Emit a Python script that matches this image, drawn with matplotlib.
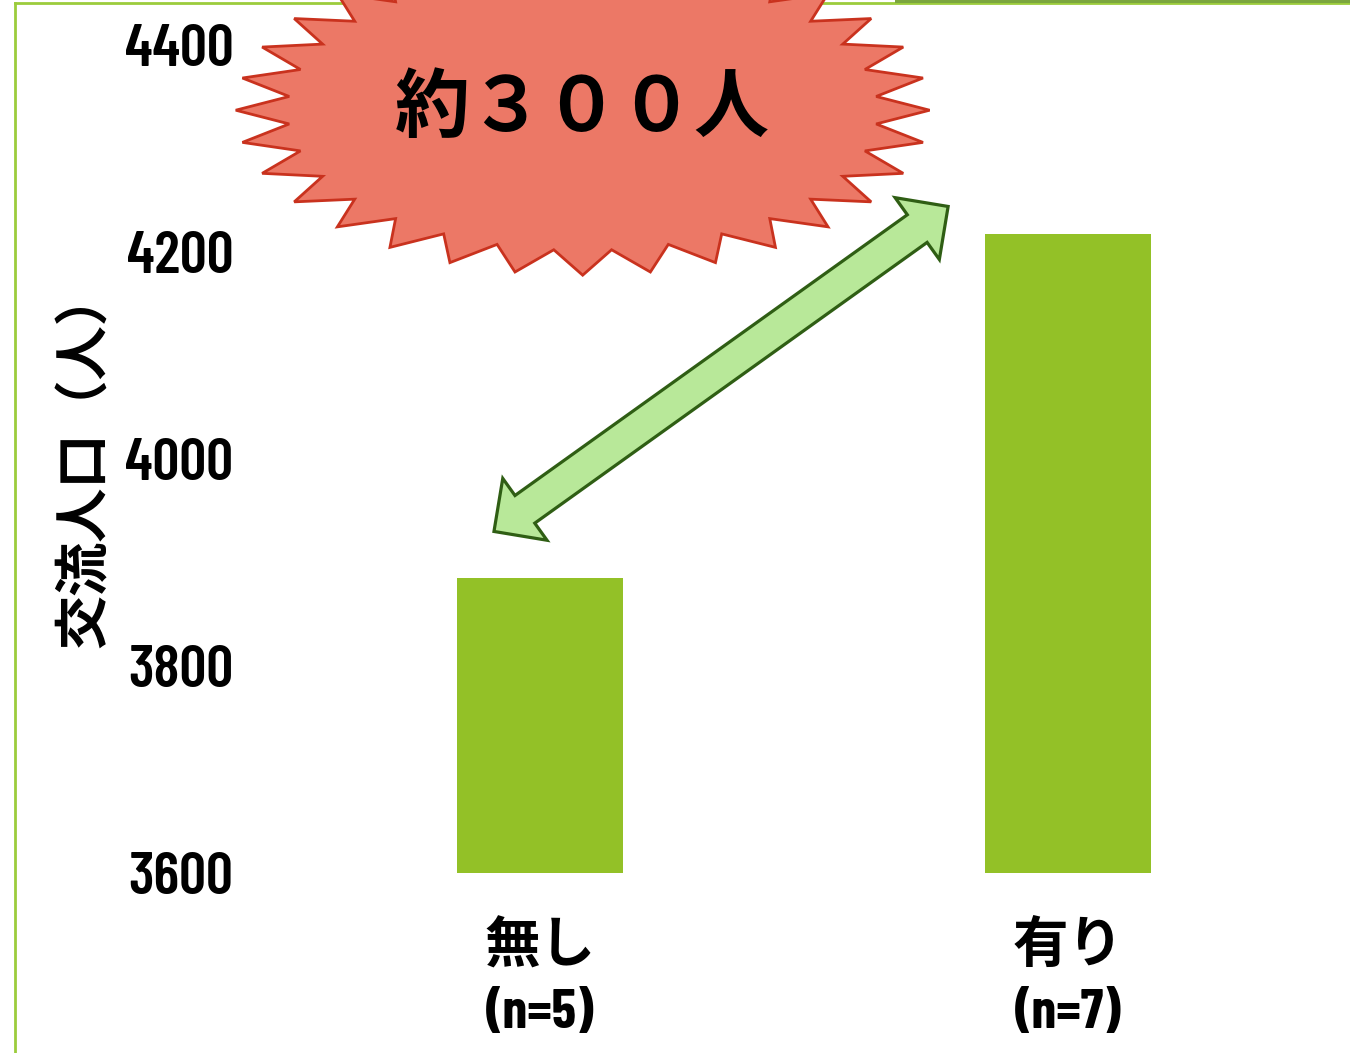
import numpy as np
import matplotlib
matplotlib.use("Agg")
import matplotlib.pyplot as plt
from matplotlib.patches import Polygon, Rectangle
from matplotlib.lines import Line2D

# data
categories = ["無し\n(n=5)", "有り\n(n=7)"]
values = [3885, 4217]
yticks = [3600, 3800, 4000, 4200, 4400]
ylabel = "交流人口（人）"
callout = "約３００人"
arrow_from = (-0.087, 3930)   # data coords of the arrow tips
arrow_to = (0.773, 4244)

BAR = "#93c127"
NUM_FONT = ["Barlow Condensed", "Noto Sans CJK JP", "DejaVu Sans"]
JP_FONT = ["Noto Sans CJK JP", "DejaVu Sans"]

W, H = 1350, 1053
fig = plt.figure(figsize=(W / 100, H / 100), dpi=100)
# axes placed in pixels: left 250, bottom at y=873 (value 3600)
ax = fig.add_axes([250 / W, (H - 873) / H, 1100 / W, 873 / H])
ax.patch.set_visible(False)

x = np.arange(len(categories))
ax.bar(x, np.array(values) - 3600, bottom=3600, width=0.314, color=BAR, zorder=2)

ax.set_xlim(-0.549, 1.534)
ax.set_ylim(3600, 3600 + 873 / 1.035)
ax.set_yticks(yticks)
ax.set_yticklabels([str(t) for t in yticks], family=NUM_FONT, fontweight=600, fontsize=43)
ax.set_xticks(x)
ax.set_xticklabels(categories, family=NUM_FONT, fontweight="bold", fontsize=40, linespacing=1.42)
ax.tick_params(axis="y", length=0, pad=12)
ax.tick_params(axis="x", length=0, pad=34)
for s in ax.spines.values():
    s.set_visible(False)

fig.text(85 / W, 1 - 459 / H, ylabel, rotation=90, ha="center", va="center",
         family=JP_FONT, fontweight="bold", fontsize=39)

# slide frame (behind everything)
fig.add_artist(Line2D([15 / W, 15 / W], [0, 1 - 3 / H], color="#9ccc3c", lw=2, zorder=-1,
                      transform=fig.transFigure))
fig.add_artist(Line2D([15 / W, 1], [1 - 3 / H, 1 - 3 / H], color="#9ccc3c", lw=2, zorder=-1,
                      transform=fig.transFigure))
fig.add_artist(Rectangle((895 / W, 1 - 3 / H), (W - 895) / W, 3 / H, color="#7ba63e", lw=0,
                         zorder=-1, transform=fig.transFigure))

# 32 point burst behind the callout text
cx, cy = 0.081, 4337
rx, ry = 0.657, 159.4
ang = np.deg2rad(np.arange(64) * 360 / 64)
rad = np.where(np.arange(64) % 2 == 0, 1.0, 0.85)
star = np.column_stack([cx + rx * rad * np.cos(ang), cy + ry * rad * np.sin(ang)])
ax.add_patch(Polygon(star, closed=True, facecolor="#ec7866", edgecolor="#c9321e",
                     lw=2, zorder=4, clip_on=False))
ax.text(cx, 4338, callout, ha="center", va="center", family=JP_FONT, fontweight="bold",
        fontsize=54, zorder=5)

# double headed block arrow, built in pixel space
p1 = ax.transData.transform(arrow_from)
p2 = ax.transData.transform(arrow_to)
u = (p2 - p1) / np.hypot(*(p2 - p1))
n = np.array([-u[1], u[0]])
hl, hw, sw = 38, 38, 17
pts = [p1, p1 + hl * u + hw * n, p1 + hl * u + sw * n, p2 - hl * u + sw * n, p2 - hl * u + hw * n,
       p2, p2 - hl * u - hw * n, p2 - hl * u - sw * n, p1 + hl * u - sw * n, p1 + hl * u - hw * n]
pts = ax.transData.inverted().transform(np.array(pts))
ax.add_patch(Polygon(pts, closed=True, facecolor="#b8e899", edgecolor="#2f5e14", lw=2.3,
                     joinstyle="miter", zorder=6, clip_on=False))

fig.savefig("out.png", dpi=100)
